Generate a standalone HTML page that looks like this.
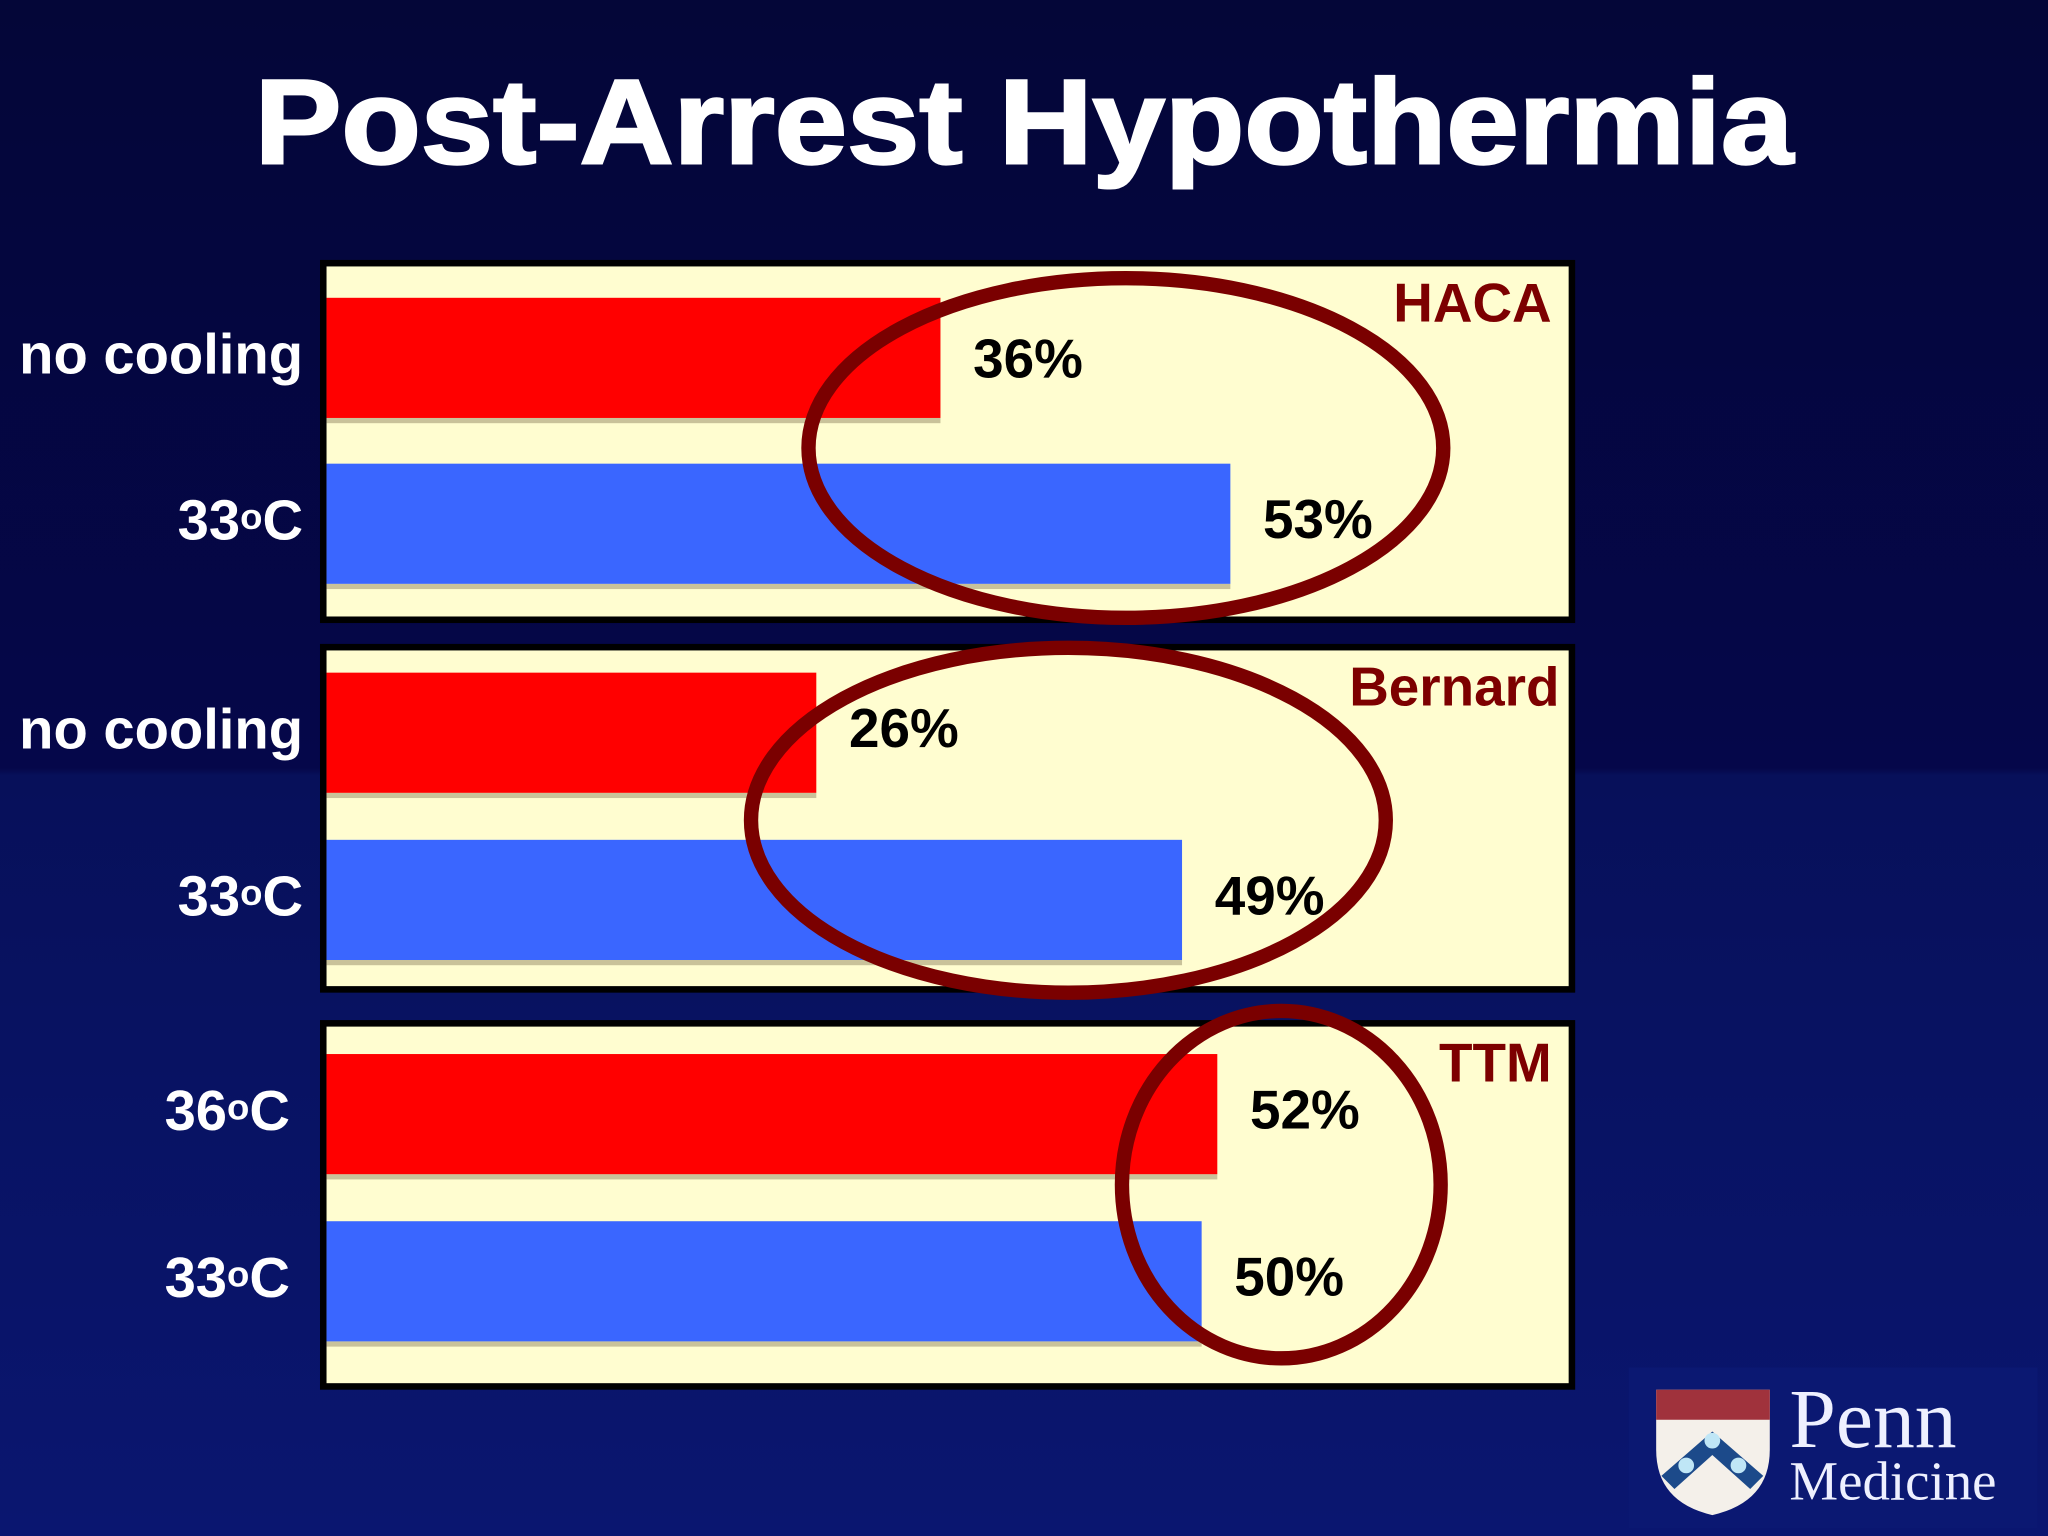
<!DOCTYPE html>
<html><head><meta charset="utf-8"><style>
html,body{margin:0;padding:0;width:2048px;height:1536px;overflow:hidden;background:#06084a;}
svg{display:block}
text{font-family:"Liberation Sans",Arial,sans-serif;font-weight:bold}
</style></head><body>
<svg id="chart" width="2048" height="1536" viewBox="0 0 1568 1176" preserveAspectRatio="none" xmlns="http://www.w3.org/2000/svg">
<defs>
<linearGradient id="bg" x1="0" y1="0" x2="0" y2="1">
<stop offset="0" stop-color="#040638"/><stop offset="0.5" stop-color="#05074a"/><stop offset="0.505" stop-color="#07105a"/><stop offset="1" stop-color="#0a1670"/>
</linearGradient>
</defs>
<rect x="0" y="0" width="1568" height="1176" fill="url(#bg)"/>
<text x="784" y="125" text-anchor="middle" font-size="92" fill="#fff" font-weight="900" textLength="1178" lengthAdjust="spacingAndGlyphs" stroke="#fff" stroke-width="2">Post-Arrest Hypothermia</text>
<g id="panels"></g>
<g>
<rect x="1247" y="1047" width="313" height="123" fill="#0b1872"/>
<path d="M1268 1064 H1355 V1110 Q1355 1150 1311 1160 Q1268 1150 1268 1110 Z" fill="#f4f0ea"/>
<rect x="1268" y="1064" width="87" height="23" fill="#a0323c"/>
<path d="M1272 1130 L1311 1096 L1350 1130 L1340 1140 L1311 1114 L1282 1140 Z" fill="#1c4a8a"/>
<circle cx="1311" cy="1103" r="6" fill="#bfe6f6"/><circle cx="1291" cy="1122" r="6" fill="#bfe6f6"/><circle cx="1331" cy="1122" r="6" fill="#bfe6f6"/>
<text x="1370" y="1108" font-size="64" fill="#eef0ff" style="font-family:'Liberation Serif',serif;font-weight:normal">Penn</text>
<text x="1370" y="1148" font-size="42" fill="#eef0ff" style="font-family:'Liberation Serif',serif;font-weight:normal">Medicine</text>
</g>
</svg>
<script>
const panelTitles = ["HACA", "Bernard", "TTM"];
const categories1 = ["no cooling", "33\u00b0C"];
const categories2 = ["no cooling", "33\u00b0C"];
const categories3 = ["36\u00b0C", "33\u00b0C"];
const values1 = [36, 53];
const values2 = [26, 49];
const values3 = [52, 50];
const valueLabels1 = ["36%", "53%"];
const valueLabels2 = ["26%", "49%"];
const valueLabels3 = ["52%", "50%"];
const domains = [[0, 53], [-4.8, 49], [-61.7, 52]];

const NS = "http://www.w3.org/2000/svg";
const root = document.getElementById("panels");
function mk(tag, attrs, parent) {
  const e = document.createElementNS(NS, tag);
  for (const k in attrs) e.setAttribute(k, attrs[k]);
  parent.appendChild(e);
  return e;
}
const layout = [
  {top: 199, bottom: 477, bars: [228, 355], ell: [862, 343, 243, 130], labelX: 232, rangeW: 692},
  {top: 493, bottom: 760, bars: [515, 643], ell: [818, 628, 243, 132], labelX: 232, rangeW: 655},
  {top: 781, bottom: 1064, bars: [807, 935], ell: [981, 907, 122, 133], labelX: 222, rangeW: 682}
];
const cats = [categories1, categories2, categories3];
const vals = [values1, values2, values3];
const vlabels = [valueLabels1, valueLabels2, valueLabels3];
const colors = ["#ff0000", "#3a66ff"];
const X0 = 250;
layout.forEach((L, p) => {
  const g = mk("g", {}, root);
  
  
  const fr = mk("rect", {x: 247.5, y: L.top + 2.5, width: 956, height: L.bottom - L.top - 5, fill: "#fffdd0", stroke: "#000", "stroke-width": 5}, g);
  
  
  const d = domains[p];
  const x = v => X0 + (v - d[0]) / (d[1] - d[0]) * L.rangeW;
  vals[p].forEach((v, i) => {
    const y = L.bars[i];
    const sh = mk("rect", {x: X0, y: y + 92, width: x(v) - X0, height: 4, fill: "#c9c29a"}, g);
    
    
    const b = mk("rect", {x: X0, y: y, width: x(v) - X0, height: 92, fill: colors[i]}, g);
    
    
    const vt = mk("text", {x: x(v) + 25, y: y + 57 + (p === 0 && i === 0 ? 4 : 0), "font-size": 42, fill: "#000"}, g);
    vt.textContent = vlabels[p][i];
    
    
    const lt = mk("text", {x: L.labelX, y: y + 58, "text-anchor": "end", "font-size": 43, fill: "#fff"}, g);
    const c = cats[p][i];
    if (c.indexOf("\u00b0") >= 0) {
      const parts = c.split("\u00b0");
      const a = document.createElementNS(NS, "tspan"); a.textContent = parts[0]; lt.appendChild(a);
      const o = document.createElementNS(NS, "tspan"); o.textContent = "o"; o.setAttribute("font-size", "28"); o.setAttribute("dy", "-8"); lt.appendChild(o);
      const cc = document.createElementNS(NS, "tspan"); cc.textContent = parts[1]; cc.setAttribute("dy", "8"); lt.appendChild(cc);
    } else lt.textContent = c;
    
    
  });
  const tt = mk("text", {x: p === 1 ? 1194 : 1188, y: L.top + 47, "text-anchor": "end", "font-size": 42, fill: "#7d0000"}, g);
  tt.textContent = panelTitles[p];
  
  
  const e = L.ell;
  const el = mk("ellipse", {cx: e[0], cy: e[1], rx: e[2], ry: e[3], fill: "none", stroke: "#7a0000", "stroke-width": 11}, g);
  
  
});
</script>
</body></html>
